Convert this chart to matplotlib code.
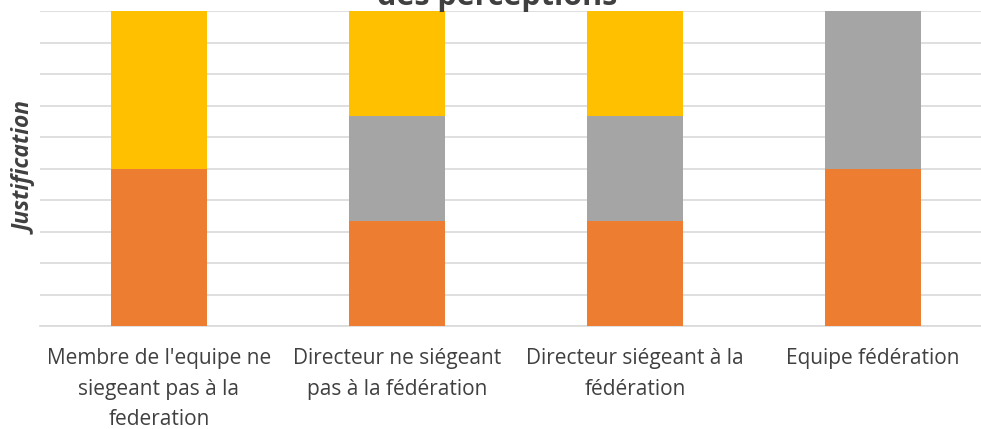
import matplotlib
matplotlib.use("Agg")
import matplotlib.pyplot as plt
import numpy as np

categories = ["Membre de l'equipe ne\nsiegeant pas à la\nfederation",
              "Directeur ne siégeant\npas à la fédération",
              "Directeur siégeant à la\nfédération",
              "Equipe fédération"]
series_names = ["Série 1", "Série 2", "Série 3"]
orange_vals = [1, 1, 1, 1]
gray_vals = [0, 1, 1, 1]
yellow_vals = [1, 1, 1, 0]
colors = ["#ED7D31", "#A5A5A5", "#FFC000"]

data = np.array([orange_vals, gray_vals, yellow_vals], dtype=float)
pct = data / data.sum(axis=0) * 100

plt.rcParams['font.family'] = ['Open Sans', 'DejaVu Sans']
fig = plt.figure(figsize=(9.81, 4.29), dpi=100)
ax = fig.add_axes([40/981, (429-326)/429, 1 - 40/981, (326-11)/429])

x = np.arange(len(categories))
bottom = np.zeros(len(categories))
for i in range(len(series_names)):
    ax.bar(x, pct[i], bottom=bottom, width=0.403, color=colors[i],
           label=series_names[i], zorder=3)
    bottom += pct[i]

ax.set_xlim(-0.5, (981-159)/238)
ax.set_ylim(0, 100)
ax.set_yticks(np.arange(0, 101, 10))
ax.set_yticklabels([])
ax.tick_params(axis='y', length=0)
ax.tick_params(axis='x', length=0, pad=16)
ax.set_xticks(x)
ax.set_xticklabels(categories, fontsize=15, color="#404040", linespacing=1.6)
ax.grid(axis='y', color="#D9D9D9", linewidth=1.2, zorder=0)
for s in ['top', 'right', 'left']:
    ax.spines[s].set_visible(False)
ax.spines['bottom'].set_color("#D9D9D9")
ax.spines['bottom'].set_linewidth(1.2)

ax.set_ylabel("Justification", fontsize=16.4, fontweight='bold', fontstyle='italic',
              color="#404040")
ax.yaxis.set_label_coords(-1/941, 0.5)

fig.text(497/981, 1 - 4.5/429, "des perceptions", ha='center', va='baseline',
         fontsize=22, fontweight='bold', color="#404040")

fig.savefig("out.png", dpi=100)
